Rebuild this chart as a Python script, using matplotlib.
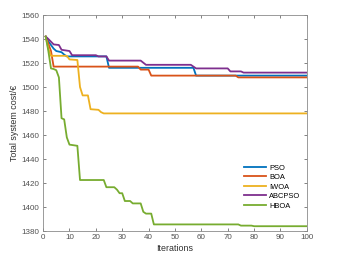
import numpy as np
import matplotlib.pyplot as plt

plt.rcParams['font.family'] = ['Liberation Sans', 'DejaVu Sans']

# convergence curves (iteration, total cost)
pso_it = [1, 2, 4, 5, 7, 8, 9, 24, 25, 57, 58, 100]
pso_val = [1542, 1538, 1532, 1530, 1529, 1527, 1525.5, 1525.5, 1516, 1516, 1509.5, 1509.5]

boa_it = [1, 2, 3, 4, 36, 37, 40, 41, 73, 74, 100]
boa_val = [1542, 1536, 1530, 1517, 1517, 1514.5, 1514.5, 1509.5, 1509.5, 1508, 1508]

iwoa_it = [1, 2, 3, 9, 10, 13, 14, 15, 17, 18, 21, 22, 23, 100]
iwoa_val = [1542, 1532, 1526, 1526, 1523, 1522.5, 1500, 1493, 1493, 1481.5, 1481, 1479, 1478, 1478]

abc_it = [1, 2, 4, 6, 7, 10, 11, 20, 21, 24, 25, 37, 39, 56, 58, 70, 71, 75, 76, 100]
abc_val = [1542, 1540, 1535.5, 1535, 1531, 1530, 1526.5, 1526.5, 1525.5, 1525.5, 1522, 1522,
           1518.5, 1518.5, 1515.5, 1515.5, 1513, 1513, 1512, 1512]

hboa_it = [1, 2, 3, 4, 5, 6, 7, 8, 9, 10, 13, 14, 23, 24, 27, 28, 29, 30, 31, 33, 34,
           37, 38, 39, 41, 42, 74, 75, 79, 80, 100]
hboa_val = [1542, 1530, 1515.5, 1515, 1514, 1508, 1474, 1473, 1458, 1452, 1451, 1422.5, 1422.5,
            1416.5, 1416.5, 1414.5, 1411.5, 1411.5, 1405, 1405, 1403, 1403, 1396, 1394.5, 1394.5,
            1385.5, 1385.5, 1384.5, 1384.5, 1384, 1384]

names = ['PSO', 'BOA', 'IWOA', 'ABCPSO', 'HBOA']
colors = ['#0072BD', '#D95319', '#EDB120', '#7E2F8E', '#77AC30']
curves = [(pso_it, pso_val), (boa_it, boa_val), (iwoa_it, iwoa_val),
          (abc_it, abc_val), (hboa_it, hboa_val)]

fig = plt.figure(figsize=(3.56, 2.68), dpi=100)
ax = fig.add_axes([0.121, 0.138, 0.741, 0.806])

for (xs, ys), name, c in zip(curves, names, colors):
    ax.plot(xs, ys, color=c, lw=1.3, label=name)

ax.set_xlim(0, 100)
ax.set_ylim(1380, 1560)
ax.set_xticks(np.arange(0, 101, 10))
ax.set_yticks(np.arange(1380, 1561, 20))
ax.tick_params(direction='in', length=2.5, width=0.5, labelsize=5.8,
               colors='#505050', top=True, right=True, pad=2.5)
for s in ax.spines.values():
    s.set_color('#8a8a8a')
    s.set_linewidth(0.6)

ax.set_xlabel('Iterations', fontsize=6.4, color='#303030', labelpad=2)
ax.set_ylabel('Total system cost/€', fontsize=6.4, color='#303030', labelpad=2)

ax.legend(loc='lower right', bbox_to_anchor=(0.995, 0.075), frameon=False,
          fontsize=5.4, handlelength=3.0, handletextpad=0.35, labelspacing=0.3,
          borderpad=0.2)

fig.savefig('out.png', dpi=100)
